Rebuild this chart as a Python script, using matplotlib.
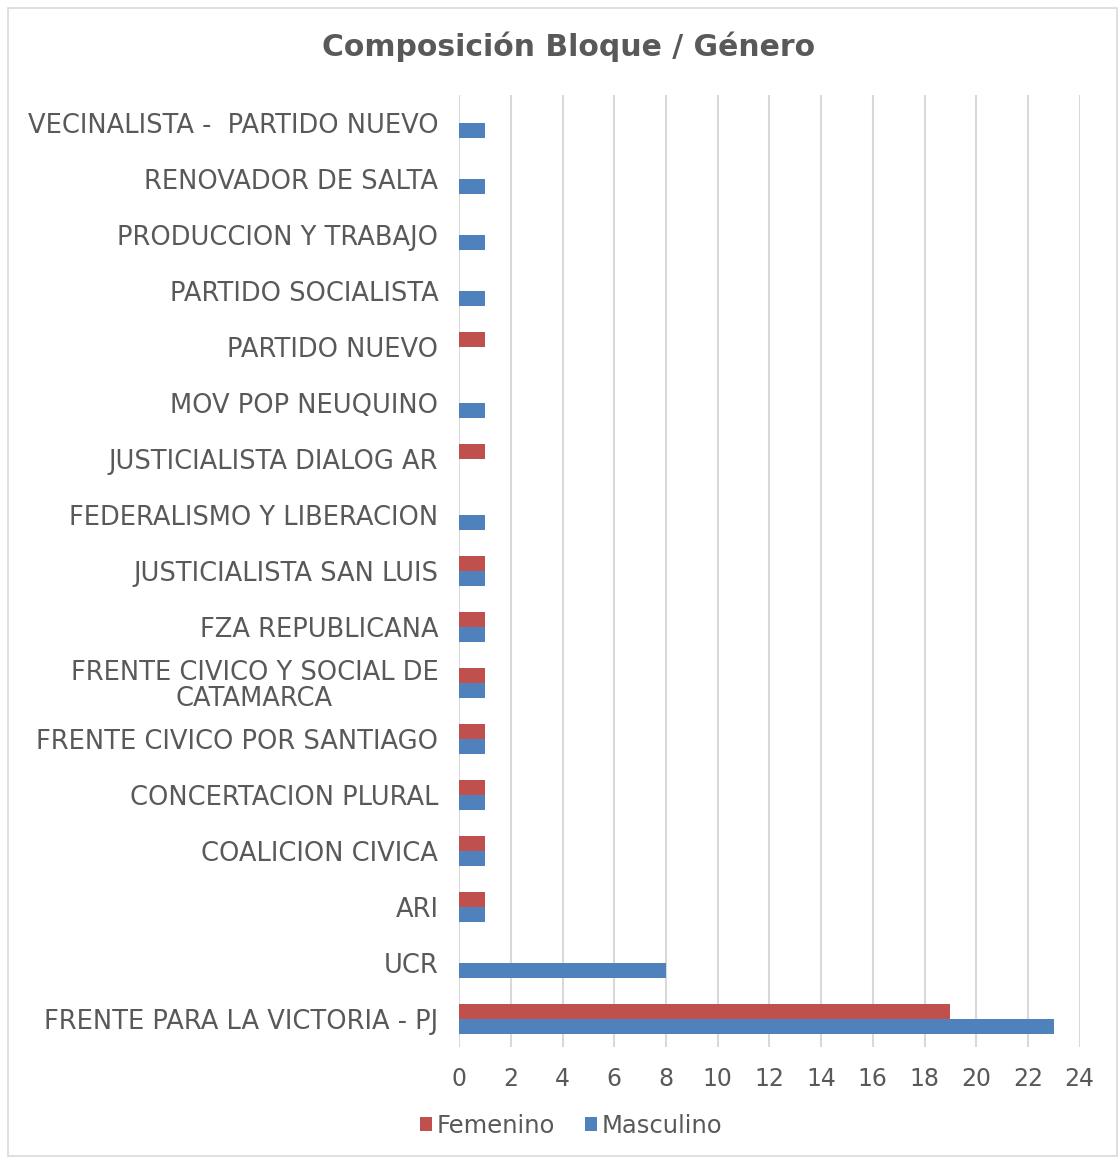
import matplotlib
matplotlib.use('Agg')
from matplotlib import pyplot as plt
from matplotlib.patches import Rectangle
import numpy as np

# categories from bottom to top
bloques = [
    'FRENTE PARA LA VICTORIA - PJ',
    'UCR',
    'ARI',
    'COALICION CIVICA',
    'CONCERTACION PLURAL',
    'FRENTE CIVICO POR SANTIAGO',
    'FRENTE CIVICO Y SOCIAL DE\nCATAMARCA',
    'FZA REPUBLICANA',
    'JUSTICIALISTA SAN LUIS',
    'FEDERALISMO Y LIBERACION',
    'JUSTICIALISTA DIALOG AR',
    'MOV POP NEUQUINO',
    'PARTIDO NUEVO',
    'PARTIDO SOCIALISTA',
    'PRODUCCION Y TRABAJO',
    'RENOVADOR DE SALTA',
    'VECINALISTA -  PARTIDO NUEVO',
]
femenino = [19, 0, 1, 1, 1, 1, 1, 1, 1, 0, 1, 0, 1, 0, 0, 0, 0]
masculino = [23, 8, 1, 1, 1, 1, 1, 1, 1, 1, 0, 1, 0, 1, 1, 1, 1]
xticks = list(range(0, 25, 2))

TEXT = '#595959'
RED = '#C0504D'
BLUE = '#4F81BD'

plt.rcParams['font.family'] = ['DejaVu Sans']

fig = plt.figure(figsize=(11.2, 11.57), dpi=100)
ax = fig.add_axes([0.41, 0.095, 0.554, 0.823])

y = np.arange(len(bloques))
h = 0.27
ax.barh(y + h / 2, femenino, height=h, color=RED, label='Femenino', zorder=3)
ax.barh(y - h / 2, masculino, height=h, color=BLUE, label='Masculino', zorder=3)

ax.set_xlim(0, 24)
ax.set_ylim(-0.5, len(bloques) - 0.5)
ax.set_xticks(xticks)
ax.set_yticks(y)
ax.set_yticklabels(bloques, multialignment='center', linespacing=1.0)
ax.tick_params(axis='both', length=0, colors=TEXT)
ax.tick_params(axis='y', labelsize=18.5, pad=15)
ax.tick_params(axis='x', labelsize=17, pad=14)
for s in ax.spines.values():
    s.set_visible(False)
ax.grid(axis='x', color='#D9D9D9', lw=1.5, zorder=0)

fig.suptitle('Composición Bloque / Género', x=0.508, y=0.973, fontsize=21.5,
             fontweight='bold', color=TEXT)

leg = fig.legend(loc='center', bbox_to_anchor=(0.51, 0.027), ncol=2, frameon=False,
                 fontsize=17.5, handlelength=0.5, handleheight=0.5,
                 handletextpad=0.2, columnspacing=1.2)
for t in leg.get_texts():
    t.set_color(TEXT)

fig.patches.append(Rectangle((0.007, 0.001), 0.99, 0.992, transform=fig.transFigure,
                             fill=False, edgecolor='#D9D9D9', lw=1.2))

plt.savefig('out.png', dpi=100)
